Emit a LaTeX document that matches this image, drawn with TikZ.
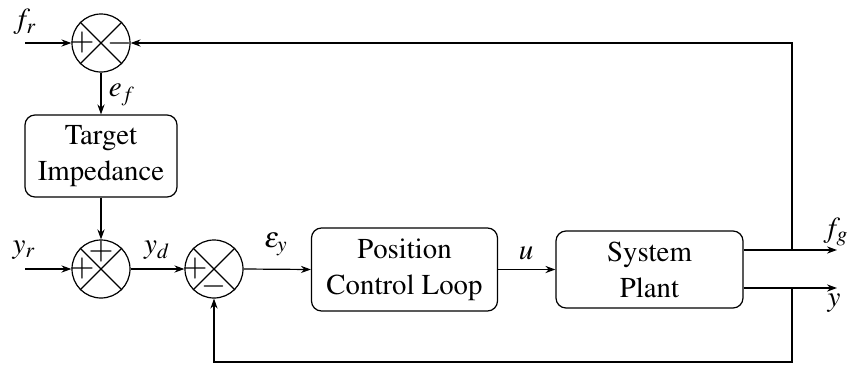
\documentclass[tikz,border=0pt]{standalone}
\IfFileExists{mathptmx.sty}{%
  \usepackage[T1]{fontenc}\usepackage{mathptmx}}{%
  \usepackage{fontspec}\setmainfont{DejaVu Serif}}
\usetikzlibrary{arrows.meta}
\begin{document}
\begin{tikzpicture}[x=0.5pt,y=-0.5pt,
  every node/.style={font=\rmfamily\fontsize{14.4}{18}\selectfont},
  blk/.style={draw,rounded corners=5pt,align=center,inner sep=0pt,line width=0.6pt},
  sumj/.style={draw,circle,minimum size=29pt,inner sep=0pt,line width=0.6pt},
  sgn/.style={font=\rmfamily\fontsize{16}{16}\selectfont,inner sep=0pt},
  lbl/.style={inner sep=0pt,font=\rmfamily\fontsize{14.5}{17}\selectfont},
  conn/.style={line width=0.6pt,-{Stealth[length=5pt,width=3.6pt]}},
  wire/.style={line width=0.6pt}]
\useasboundingbox (0,0) rectangle (848,365);
% junctions
\node[sumj] (s1) at (101,43) {};
\node[sumj] (s2) at (101,269) {};
\node[sumj] (s3) at (214,269) {};
\foreach \s in {s1,s2,s3}{
  \draw[wire] (\s.north west) -- (\s.south east);
  \draw[wire] (\s.north east) -- (\s.south west);
}
\node[sgn] (p1) at ([xshift=-9.5pt]s1.center) {$+$};
\node[sgn] (m1) at ([xshift=9.5pt]s1.center) {$-$};
\node[sgn] (p2a) at ([yshift=8.5pt]s2.center) {$+$};
\node[sgn] (p2b) at ([xshift=-9.5pt]s2.center) {$+$};
\node[sgn] (p3) at ([xshift=-9.5pt]s3.center) {$+$};
\node[sgn] (m3) at ([yshift=-8.5pt]s3.center) {$-$};
% blocks
\node[blk,minimum width=76pt,minimum height=41pt] (ti) at (101,156) {Target\\Impedance};
\node[blk,minimum width=93pt,minimum height=41.5pt] (pc) at (404.5,269.5) {Position\\Control Loop};
\node[blk,minimum width=93.5pt,minimum height=38.5pt] (sp) at (649.5,269.5) {System\\Plant};
% coordinates
\coordinate (fin) at (25,43);
\coordinate (yin) at (25,269);
\coordinate (fgout) at (837,250);
\coordinate (yout) at (837,288);
\coordinate (fgtap) at (792,250);
\coordinate (ytap) at (792,288);
\coordinate (tr) at (792,43);
\coordinate (br) at (792,362);
\coordinate (bl) at (214,362);
% connectors
\draw[conn] (fin) -- (s1.west);
\draw[conn] (s1.south) -- (ti.north);
\draw[conn] (ti.south) -- (s2.north);
\draw[conn] (yin) -- (s2.west);
\draw[conn] (s2.east) -- (s3.west);
\draw[conn] (s3.east) -- (pc.west);
\draw[conn] (pc.east) -- (sp.west);
\draw[conn] (sp.east |- fgout) -- (fgout);
\draw[conn] (sp.east |- yout) -- (yout);
\draw[conn] (fgtap) -- (tr) -- (s1.east);
\draw[conn] (ytap) -- (br) -- (bl) -- (s3.south);
% labels
\node[lbl] (lfr) at (25,22) {$f_r$};
\node[lbl] (lef) at (122,95) {$e_f$};
\node[lbl] (lyr) at (24,250) {$y_r$};
\node[lbl] (lyd) at (157,250) {$y_d$};
\node[lbl] (ley) at (276,244) {$\varepsilon_y$};
\node[lbl] (lu) at (526,253) {$u$};
\node[lbl] (lfg) at (836,232) {$f_g$};
\node[lbl] (ly) at (834,303) {$y$};
\end{tikzpicture}
\end{document}
